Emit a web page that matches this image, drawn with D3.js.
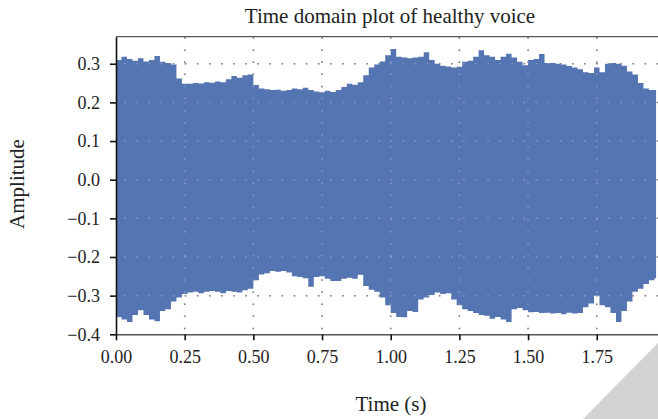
<!DOCTYPE html>
<html>
<head>
<meta charset="utf-8">
<script src="https://cdn.jsdelivr.net/npm/d3@7"></script>
<style>
body { margin: 0; background: #fff; }
text { font-family: "Liberation Serif", "DejaVu Serif", serif; fill: #222; }
</style>
</head>
<body>
<script>
// envelope of the recorded voice, one reading every 0.02 s (0.00 .. 1.96)
var sampleStep = 0.02;
var upperEnv = [
	0.310, 0.318, 0.312, 0.308, 0.314, 0.306, 0.310, 0.320, 0.305, 0.302,
	0.298, 0.262, 0.248, 0.248, 0.250, 0.249, 0.252, 0.251, 0.254, 0.252,
	0.260, 0.268, 0.264, 0.270, 0.272, 0.245, 0.236, 0.234, 0.232, 0.233,
	0.230, 0.232, 0.236, 0.234, 0.238, 0.232, 0.228, 0.226, 0.230, 0.227,
	0.232, 0.240, 0.248, 0.246, 0.252, 0.270, 0.290, 0.298, 0.306, 0.322,
	0.338, 0.318, 0.316, 0.314, 0.316, 0.318, 0.330, 0.310, 0.300, 0.295,
	0.293, 0.290, 0.292, 0.305, 0.308, 0.318, 0.335, 0.322, 0.318, 0.310,
	0.318, 0.326, 0.316, 0.305, 0.296, 0.310, 0.312, 0.325, 0.302, 0.302,
	0.300, 0.298, 0.294, 0.290, 0.286, 0.278, 0.276, 0.290, 0.278, 0.300,
	0.302, 0.300, 0.295, 0.280, 0.272, 0.250, 0.236, 0.232, 0.232
];
var lowerEnv = [
	-0.355, -0.362, -0.368, -0.350, -0.338, -0.350, -0.362, -0.366, -0.340, -0.335,
	-0.315, -0.305, -0.296, -0.292, -0.290, -0.294, -0.290, -0.288, -0.290, -0.294,
	-0.288, -0.290, -0.292, -0.286, -0.282, -0.260, -0.245, -0.242, -0.236, -0.238,
	-0.236, -0.240, -0.250, -0.252, -0.255, -0.277, -0.252, -0.250, -0.256, -0.262,
	-0.262, -0.256, -0.254, -0.256, -0.246, -0.275, -0.285, -0.290, -0.305, -0.325,
	-0.345, -0.355, -0.356, -0.340, -0.342, -0.310, -0.305, -0.298, -0.292, -0.296,
	-0.294, -0.310, -0.325, -0.335, -0.340, -0.345, -0.350, -0.352, -0.360, -0.355,
	-0.362, -0.368, -0.335, -0.332, -0.338, -0.343, -0.342, -0.345, -0.344, -0.346,
	-0.345, -0.348, -0.344, -0.346, -0.345, -0.330, -0.320, -0.300, -0.325, -0.330,
	-0.345, -0.368, -0.340, -0.315, -0.290, -0.282, -0.270, -0.260, -0.255
];
var xTicks = [0, 0.25, 0.5, 0.75, 1.0, 1.25, 1.5, 1.75];
var yTicks = [-0.4, -0.3, -0.2, -0.1, 0.0, 0.1, 0.2, 0.3];

var width = 658, height = 419;
var margin = { top: 36.7, right: 0, bottom: 84.7, left: 116 };

var svg = d3.select("body").append("svg")
	.attr("width", width)
	.attr("height", height);

var x = d3.scaleLinear().domain([0, 1.973]).range([margin.left, width - margin.right]);
var y = d3.scaleLinear().domain([-0.4, 0.37]).range([height - margin.bottom, margin.top]);

var samples = upperEnv.map(function(d, i) {
	return { t: i * sampleStep, hi: d, lo: lowerEnv[i] };
});
// close the last step
var last = samples[samples.length - 1];
samples.push({ t: last.t + 0.006, hi: last.hi, lo: last.lo });

function drawGrid(color, opacity) {
	var g = svg.append("g")
		.attr("stroke", color)
		.attr("stroke-opacity", opacity)
		.attr("stroke-width", 1.5)
		.attr("stroke-dasharray", "1.5,10.6");
	g.selectAll("line.h")
		.data(yTicks.filter(function(d) { return d > -0.4; }))
		.enter().append("line")
		.attr("x1", x.range()[0]).attr("x2", x.range()[1])
		.attr("y1", function(d) { return y(d); })
		.attr("y2", function(d) { return y(d); })
		.attr("stroke-dashoffset", 3.8);
	g.selectAll("line.v")
		.data(xTicks.filter(function(d) { return d > 0; }))
		.enter().append("line")
		.attr("x1", function(d) { return x(d); })
		.attr("x2", function(d) { return x(d); })
		.attr("y1", y.range()[1]).attr("y2", y.range()[0])
		.attr("stroke-dashoffset", -0.6);
}

// dark dots show on the white, light dots on the signal
drawGrid("#444", 1);

var area = d3.area()
	.x(function(d) { return x(d.t); })
	.y0(function(d) { return y(d.lo); })
	.y1(function(d) { return y(d.hi); })
	.curve(d3.curveStepAfter);

svg.append("path")
	.datum(samples)
	.attr("fill", "#5574b2")
	.attr("d", area);

drawGrid("#fff", 0.3);

// frame on top
svg.append("line")
	.attr("x1", x.range()[0]).attr("x2", x.range()[1])
	.attr("y1", y.range()[1]).attr("y2", y.range()[1])
	.attr("stroke", "#555").attr("stroke-width", 1.3);

var fmt = d3.format(".1f");
var yAxis = svg.append("g")
	.attr("transform", "translate(" + margin.left + ",0)")
	.call(d3.axisLeft(y).tickValues(yTicks).tickFormat(fmt).tickSize(6).tickSizeOuter(0).tickPadding(10));

var xAxis = svg.append("g")
	.attr("transform", "translate(0," + y.range()[0] + ")")
	.call(d3.axisBottom(x).tickValues(xTicks).tickFormat(d3.format(".2f")).tickSize(6).tickSizeOuter(0).tickPadding(10));

yAxis.select(".domain").attr("stroke", "#111").attr("stroke-width", 1.6);
xAxis.select(".domain").attr("stroke", "#555").attr("stroke-width", 1.6);
svg.selectAll(".tick line").attr("stroke", "#111").attr("stroke-width", 1.6);
svg.selectAll(".tick text")
	.style("font-family", "'Liberation Serif', 'DejaVu Serif', serif")
	.style("font-size", "18px")
	.style("fill", "#222");

svg.append("text")
	.attr("x", 390).attr("y", 23.3)
	.attr("text-anchor", "middle")
	.style("font-size", "21px")
	.text("Time domain plot of healthy voice");

svg.append("text")
	.attr("x", 391).attr("y", 411)
	.attr("text-anchor", "middle")
	.style("font-size", "21px")
	.text("Time (s)");

svg.append("text")
	.attr("transform", "translate(24,184) rotate(-90)")
	.attr("text-anchor", "middle")
	.style("font-size", "21px")
	.text("Amplitude");

// page corner fold at bottom right
svg.append("path")
	.attr("fill", "#d3d3d3")
	.attr("d", d3.line()([[width - 75, height], [width, height], [width, height - 76]]) + "Z");
</script>
</body>
</html>
